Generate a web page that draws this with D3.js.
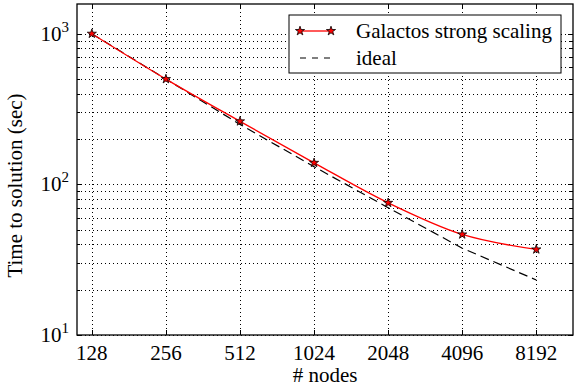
<!DOCTYPE html>
<html>
<head>
<meta charset="utf-8">
<script src="https://cdn.jsdelivr.net/npm/d3@7"></script>
<style>
  body { margin: 0; background: #fff; }
  svg { display: block; }
  svg text { font-family: 'Liberation Serif', 'Times New Roman', Times, 'DejaVu Serif', serif; }
</style>
</head>
<body>
<svg id="chart" width="578" height="387"></svg>
<script>
// data
const nodes = [128, 256, 512, 1024, 2048, 4096, 8192];
const galactosTime = [1000, 500, 262, 139, 75.4, 46.5, 37.0];
const idealTime = [1000, 500, 250, 131, 70, 37.7, 23.2];
const yMajorTicks = [10, 100, 1000];
const yExponents = ['1', '2', '3'];

const width = 578, height = 387;
const margin = { top: 4, right: 5, bottom: 52, left: 77 };
const plotW = width - margin.left - margin.right;
const plotH = height - margin.top - margin.bottom;

const svg = d3.select('#chart');
const g = svg.append('g').attr('transform', `translate(${margin.left},${margin.top})`);

// ==================== SCALES ====================
const x = d3.scaleLog().base(2).domain([111.4, 11550]).range([0, plotW]);
const y = d3.scaleLog().domain([10, 1575]).range([plotH, 0]);

// minor y ticks 2..9 per decade
const yMinorTicks = [];
[10, 100, 1000].forEach(dec => {
  for (let k = 2; k <= 9; k++) {
    const v = dec * k;
    if (v <= 1575) yMinorTicks.push(v);
  }
});

// ==================== GRID ====================
const grid = g.append('g').attr('class', 'grid');
grid.selectAll('.gx').data(nodes).enter().append('line')
  .attr('x1', d => Math.round(x(d)) + 0.5).attr('x2', d => Math.round(x(d)) + 0.5)
  .attr('y1', 0).attr('y2', plotH)
  .attr('stroke', '#000').attr('stroke-width', 1)
  .attr('stroke-dasharray', '1,3');
grid.selectAll('.gy').data(yMajorTicks.concat(yMinorTicks)).enter().append('line')
  .attr('x1', 0).attr('x2', plotW)
  .attr('y1', d => Math.round(y(d)) + 0.5).attr('y2', d => Math.round(y(d)) + 0.5)
  .attr('stroke', '#000').attr('stroke-width', 1)
  .attr('stroke-dasharray', '1,3');

// ==================== LINES ====================
const idealLine = d3.line()
  .x((d, i) => x(nodes[i]))
  .y(d => y(d));
g.append('path')
  .datum(idealTime)
  .attr('d', idealLine)
  .attr('fill', 'none')
  .attr('stroke', '#000')
  .attr('stroke-width', 1.2)
  .attr('stroke-dasharray', '9,5');

const galLine = d3.line()
  .x((d, i) => x(nodes[i]))
  .y(d => y(d))
  .curve(d3.curveMonotoneX);
g.append('path')
  .datum(galactosTime)
  .attr('d', galLine)
  .attr('fill', 'none')
  .attr('stroke', '#ff0000')
  .attr('stroke-width', 1.3);

const star = d3.symbol().type(d3.symbolStar).size(26);
g.selectAll('.star').data(galactosTime).enter().append('path')
  .attr('d', star)
  .attr('transform', (d, i) => `translate(${x(nodes[i])},${y(d)})`)
  .attr('fill', '#ff0000')
  .attr('stroke', '#000')
  .attr('stroke-width', 0.8);

// ==================== TICKS (inward, all sides) ====================
const ticks = g.append('g').attr('stroke', '#000').attr('stroke-width', 1);
nodes.forEach(n => {
  const px = Math.round(x(n)) + 0.5;
  ticks.append('line').attr('x1', px).attr('x2', px).attr('y1', plotH).attr('y2', plotH - 5);
  ticks.append('line').attr('x1', px).attr('x2', px).attr('y1', 0).attr('y2', 5);
});
yMajorTicks.forEach(v => {
  const py = Math.round(y(v)) + 0.5;
  ticks.append('line').attr('x1', 0).attr('x2', 5).attr('y1', py).attr('y2', py);
  ticks.append('line').attr('x1', plotW).attr('x2', plotW - 5).attr('y1', py).attr('y2', py);
});
yMinorTicks.forEach(v => {
  const py = Math.round(y(v)) + 0.5;
  ticks.append('line').attr('x1', 0).attr('x2', 3).attr('y1', py).attr('y2', py);
  ticks.append('line').attr('x1', plotW).attr('x2', plotW - 3).attr('y1', py).attr('y2', py);
});

// frame
g.append('rect')
  .attr('x', 0).attr('y', 0)
  .attr('width', plotW).attr('height', plotH)
  .attr('fill', 'none').attr('stroke', '#000').attr('stroke-width', 1.3);

// ==================== TICK LABELS ====================
g.selectAll('.xl').data(nodes).enter().append('text')
  .attr('x', d => x(d))
  .attr('y', plotH + 25)
  .attr('text-anchor', 'middle')
  .attr('font-size', 21)
  .text(d => d);

yMajorTicks.forEach((v, i) => {
  const t = g.append('text')
    .attr('x', -8)
    .attr('y', y(v) + 7)
    .attr('text-anchor', 'end')
    .attr('font-size', 21);
  t.append('tspan').text('10');
  t.append('tspan').attr('dy', -9).attr('font-size', 15).text(yExponents[i]);
});

// axis labels
g.append('text')
  .attr('x', plotW / 2)
  .attr('y', plotH + 47)
  .attr('text-anchor', 'middle')
  .attr('font-size', 21)
  .text('# nodes');

g.append('text')
  .attr('transform', `translate(${-55},${plotH / 2 + 16}) rotate(-90)`)
  .attr('text-anchor', 'middle')
  .attr('font-size', 21)
  .text('Time to solution (sec)');

// ==================== LEGEND ====================
const legend = svg.append('g').attr('transform', 'translate(289,15)');
legend.append('rect')
  .attr('width', 272).attr('height', 58)
  .attr('fill', '#fff').attr('stroke', '#000').attr('stroke-width', 1);

const legendItems = [
  { label: 'Galactos strong scaling', color: '#ff0000', dash: null, marker: true },
  { label: 'ideal', color: '#000', dash: '6,6', marker: false }
];
legendItems.forEach((item, i) => {
  const ly = 16 + i * 27;
  legend.append('line')
    .attr('x1', 11).attr('x2', 42).attr('y1', ly).attr('y2', ly)
    .attr('stroke', item.color)
    .attr('stroke-width', item.marker ? 1.3 : 1.2)
    .attr('stroke-dasharray', item.dash);
  if (item.marker) {
    [11, 42].forEach(sx => {
      legend.append('path')
        .attr('d', star)
        .attr('transform', `translate(${sx},${ly})`)
        .attr('fill', '#ff0000').attr('stroke', '#000').attr('stroke-width', 0.8);
    });
  }
  legend.append('text')
    .attr('x', 67).attr('y', ly + 7)
    .attr('font-size', 21)
    .text(item.label);
});
</script>
</body>
</html>
